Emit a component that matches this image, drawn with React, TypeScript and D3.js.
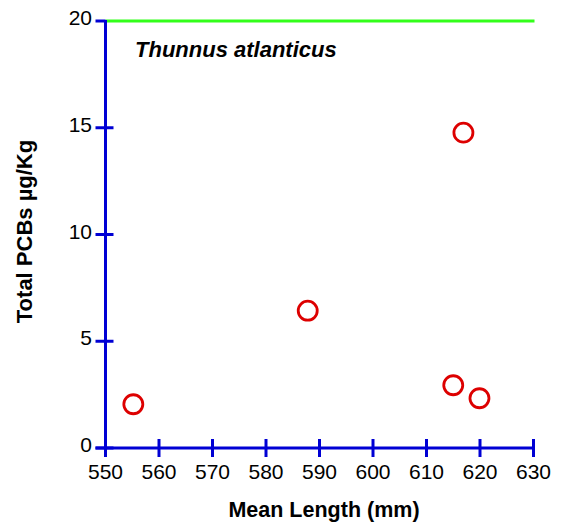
import React from "react";
import * as d3 from "d3";

const lengths = [555.2, 587.8, 615.0, 619.9, 616.9];
const pcbs = [2.05, 6.43, 2.94, 2.33, 14.77];
const xTicks = [550, 560, 570, 580, 590, 600, 610, 620, 630];
const yTicks = [0, 5, 10, 15, 20];
const referenceLevel = 20;
const title = "Thunnus atlanticus";

const W = 564;
const H = 526;

export default function App() {
  const x = d3.scaleLinear().domain([550, 630]).range([105.5, 533.5]);
  const y = d3.scaleLinear().domain([0, 20]).range([448, 21]);
  const blue = "#0000d4";
  const font = "'Liberation Sans', Arial, sans-serif";
  return (
    <svg width={W} height={H} style={{ position: "absolute", left: 0, top: 0 }} fontFamily={font}>
      <rect width={W} height={H} fill="#fff" />
      {/* reference line */}
      <line x1={x(550)} x2={x(630) + 1} y1={y(referenceLevel)} y2={y(referenceLevel)} stroke="#33ff1a" strokeWidth={3} />
      {/* y axis */}
      <line x1={x(550)} x2={x(550)} y1={y(20) - 1} y2={y(0)} stroke={blue} strokeWidth={3} />
      {yTicks.map((t) => (
        <g key={"y" + t}>
          <line x1={x(550) - 10} x2={x(550) + (t === 20 ? 0 : 8)} y1={y(t)} y2={y(t)} stroke={blue} strokeWidth={3} />
          <text x={92} y={y(t) + 4} textAnchor="end" fontSize={21} fill="#000">{t}</text>
        </g>
      ))}
      {/* x axis */}
      <line x1={x(550) - 10} x2={x(630)} y1={y(0)} y2={y(0)} stroke={blue} strokeWidth={3} />
      {xTicks.map((t) => (
        <g key={"x" + t}>
          <line x1={x(t)} x2={x(t)} y1={y(0) - 9} y2={y(0) + 9} stroke={blue} strokeWidth={3} />
          <text x={x(t)} y={478.5} textAnchor="middle" fontSize={21} fill="#000">{t}</text>
        </g>
      ))}
      {/* points */}
      {lengths.map((l, i) => (
        <circle key={i} cx={x(l)} cy={y(pcbs[i])} r={9.5} fill="none" stroke="#dd0000" strokeWidth={2.8} />
      ))}
      <text x={135} y={56.5} fontSize={22} fontWeight="bold" fontStyle="italic" fill="#000">{title}</text>
      <text x={324} y={516.5} textAnchor="middle" fontSize={21.5} fontWeight="bold" fill="#000">Mean Length (mm)</text>
      <text transform={`translate(31.5,231.5) rotate(-90)`} textAnchor="middle" fontSize={22} fontWeight="bold" fill="#000">Total PCBs µg/Kg</text>
    </svg>
  );
}
